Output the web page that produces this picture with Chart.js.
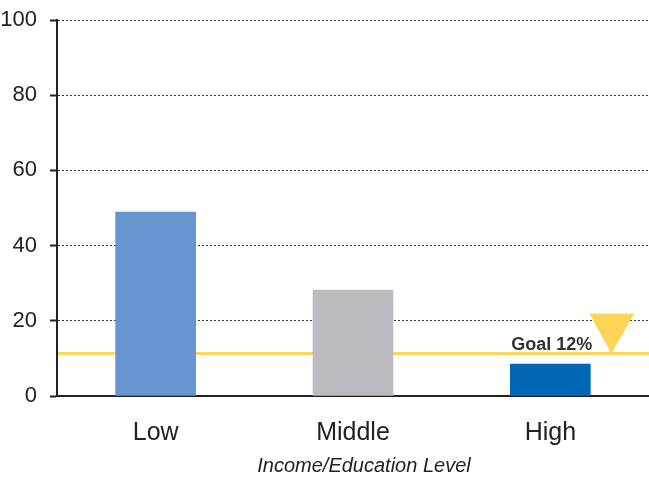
<!DOCTYPE html>
<html>
<head>
<meta charset="utf-8">
<script src="https://cdn.jsdelivr.net/npm/chart.js@4/dist/chart.umd.min.js"></script>
<style>
  html, body { margin: 0; padding: 0; background: #fff; }
  #wrap { width: 649px; height: 480px; }
</style>
</head>
<body>
<div id="wrap"><canvas id="income_chart"></canvas></div>
<script>
var levels = ["Low", "Middle", "High"];
var percent = [48.9, 28.2, 8.5];
var barColors = ["#6795CF", "#BBBCC0", "#0068B4"];
var yTicks = [0, 20, 40, 60, 80, 100];
var goalValue = 11.3;
var goalLabel = "Goal 12%";
var axisTitle = "Income/Education Level";

// goal line behind bars, marker + label on top
var goalPlugin = {
    id: "goalLine",
    beforeDatasetsDraw: function(chart) {
        var ctx = chart.ctx;
        var y = chart.scales.y.getPixelForValue(goalValue);
        ctx.save();
        ctx.strokeStyle = "#FDD65E";
        ctx.lineWidth = 3;
        ctx.beginPath();
        ctx.moveTo(chart.chartArea.left + 1, y);
        ctx.lineTo(chart.width, y);
        ctx.stroke();
        ctx.restore();
    },
    afterDatasetsDraw: function(chart) {
        var ctx = chart.ctx;
        var y = chart.scales.y.getPixelForValue(goalValue);
        var xHigh = chart.scales.x.getPixelForValue(2);
        ctx.save();
        ctx.fillStyle = "#FED559";
        ctx.beginPath();
        ctx.moveTo(xHigh + 39, y - 40);
        ctx.lineTo(xHigh + 84, y - 40);
        ctx.lineTo(xHigh + 61, y);
        ctx.closePath();
        ctx.fill();
        ctx.fillStyle = "#333";
        ctx.font = "bold 18px 'Liberation Sans'";
        ctx.textAlign = "right";
        ctx.textBaseline = "alphabetic";
        ctx.fillText(goalLabel, xHigh + 42, y - 4);
        ctx.restore();
    },
    afterDraw: function(chart) {
        // axis title, a bit right of centre like the original
        var ctx = chart.ctx;
        var area = chart.chartArea;
        ctx.save();
        ctx.fillStyle = "#222";
        ctx.font = "italic 20px 'Liberation Sans'";
        ctx.textAlign = "center";
        ctx.textBaseline = "middle";
        ctx.fillText(axisTitle, (area.left + area.right) / 2 + 11, 466);
        ctx.restore();
    }
};

var canvas = document.getElementById("income_chart");

var income_chart = new Chart(canvas, {
    type: "bar",
    data: {
        labels: levels,
        datasets: [{
            data: percent,
            backgroundColor: barColors,
            borderWidth: 0,
            barThickness: 80
        }]
    },
    options: {
        responsive: true,
        maintainAspectRatio: false,
        animation: false,
        layout: { padding: 0 },
        plugins: {
            legend: { display: false },
            tooltip: { enabled: false }
        },
        scales: {
            x: {
                grid: { display: false },
                border: { display: true, color: "#222", width: 2 },
                ticks: {
                    color: "#222",
                    padding: 14,
                    font: { family: "'Liberation Sans'", size: 25 }
                },
                afterFit: function(s) { s.height = 84; }
            },
            y: {
                min: 0,
                max: 100,
                afterBuildTicks: function(s) {
                    s.ticks = yTicks.map(function(v) { return { value: v }; });
                },
                grid: {
                    color: function(c) { return c.tick && c.tick.value === 0 ? "rgba(0,0,0,0)" : "#333"; },
                    lineWidth: 1,
                    tickLength: 7,
                    tickColor: "#222",
                    tickWidth: 2,
                    tickBorderDash: []
                },
                border: { display: true, color: "#222", width: 2, dash: [2, 2] },
                ticks: {
                    color: "#222",
                    padding: 13,
                    font: { family: "'Liberation Sans'", size: 22 }
                },
                afterFit: function(s) { s.width = 57; s.paddingTop = 20; }
            }
        }
    },
    plugins: [goalPlugin]
});
</script>
</body>
</html>
